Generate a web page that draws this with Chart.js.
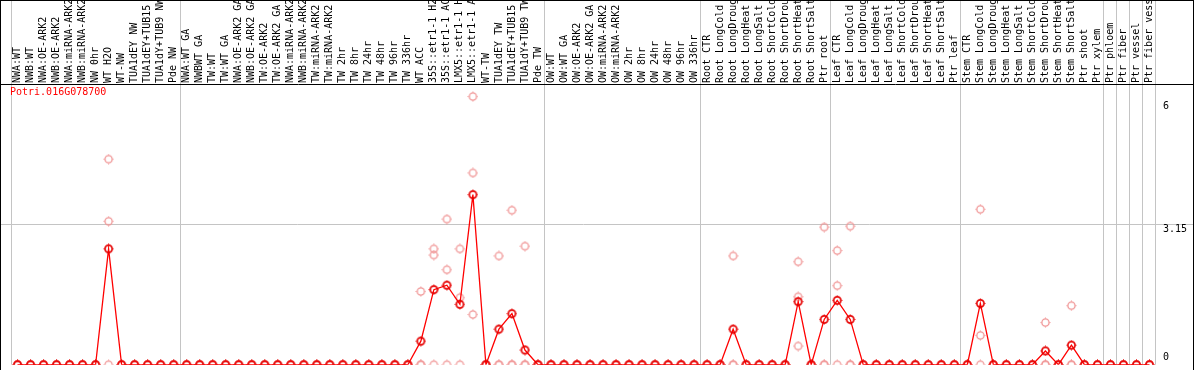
<!DOCTYPE html>
<html>
<head>
<meta charset="utf-8">
<script src="https://cdn.jsdelivr.net/npm/chart.js@4.4.1/dist/chart.umd.min.js"></script>
<style>
  html, body { margin: 0; padding: 0; background: #fff; }
  #wrap { width: 1194px; height: 370px; }
</style>
</head>
<body>
<div id="wrap"><canvas id="exprChart" width="1194" height="370"></canvas></div>
<script>
const geneId = 'Potri.016G078700';

const samples = [
  'NWA:WT', 'NWB:WT', 'NWA:OE-ARK2', 'NWB:OE-ARK2', 'NWA:miRNA-ARK2', 'NWB:miRNA-ARK2', 'NW 0hr',
  'WT H2O', 'WT-NW', 'TUA1dEY NW', 'TUA1dEY+TUB15 NW', 'TUA1dY+TUB9 NW', 'Pde NW',
  'NWA:WT GA', 'NWBWT GA', 'TW:WT', 'TW:WT GA', 'NWA:OE-ARK2 GA', 'NWB:OE-ARK2 GA', 'TW:OE-ARK2',
  'TW:OE-ARK2 GA', 'NWA:miRNA-ARK2 GA', 'NWB:miRNA-ARK2 GA', 'TW:miRNA-ARK2', 'TW:miRNA-ARK2 GA',
  'TW 2hr', 'TW 8hr', 'TW 24hr', 'TW 48hr', 'TW 96hr', 'TW 336hr', 'WT ACC',
  '35S::etr1-1 H2O', '35S::etr1-1 ACC', 'LMX5::etr1-1 H2O', 'LMX5::etr1-1 ACC', 'WT-TW',
  'TUA1dEY TW', 'TUA1dEY+TUB15 TW', 'TUA1dY+TUB9 TW', 'Pde TW',
  'OW:WT', 'OW:WT GA', 'OW:OE-ARK2', 'OW:OE-ARK2 GA', 'OW:miRNA-ARK2', 'OW:miRNA-ARK2 GA',
  'OW 2hr', 'OW 8hr', 'OW 24hr', 'OW 48hr', 'OW 96hr', 'OW 336hr',
  'Root CTR', 'Root LongCold', 'Root LongDrought', 'Root LongHeat', 'Root LongSalt',
  'Root ShortCold', 'Root ShortDrought', 'Root ShortHeat', 'Root ShortSalt', 'Ptr root',
  'Leaf CTR', 'Leaf LongCold', 'Leaf LongDrought', 'Leaf LongHeat', 'Leaf LongSalt',
  'Leaf ShortCold', 'Leaf ShortDrought', 'Leaf ShortHeat', 'Leaf ShortSalt', 'Ptr leaf',
  'Stem CTR', 'Stem LongCold', 'Stem LongDrought', 'Stem LongHeat', 'Stem LongSalt',
  'Stem ShortCold', 'Stem ShortDrought', 'Stem ShortHeat', 'Stem ShortSalt', 'Ptr shoot', 'Ptr xylem',
  'Ptr phloem', 'Ptr fiber', 'Ptr vessel', 'Ptr fiber vessel'
];

// first sample of each experiment block (gray separators)
const groupStarts = [0, 13, 41, 53, 63, 73, 84, 85, 86, 87];

const meanExpr = [
  0, 0, 0, 0, 0, 0, 0, 2.61, 0, 0, 0, 0, 0,
  0, 0, 0, 0, 0, 0, 0, 0, 0, 0, 0, 0, 0, 0, 0, 0, 0, 0, 0.53, 1.69, 1.79, 1.36, 3.83, 0, 0.80, 1.15, 0.33, 0,
  0, 0, 0, 0, 0, 0, 0, 0, 0, 0, 0, 0,
  0, 0, 0.80, 0, 0, 0, 0, 1.42, 0, 1.02,
  1.45, 1.02, 0, 0, 0, 0, 0, 0, 0, 0,
  0, 1.38, 0, 0, 0, 0, 0.31, 0, 0.44, 0, 0,
  0, 0, 0, 0
];

const rep1 = [
  0, 0, 0, 0, 0, 0, 0, 4.63, 0, 0, 0, 0, 0,
  0, 0, 0, 0, 0, 0, 0, 0, 0, 0, 0, 0, 0, 0, 0, 0, 0, 0, 1.65, 2.61, 3.28, 2.61, 6.04, 0, 2.45, 3.48, 2.67, 0,
  0, 0, 0, 0, 0, 0, 0, 0, 0, 0, 0, 0,
  0, 0, 2.45, 0, 0, 0, 0, 2.32, 0, 3.10,
  2.57, 3.12, 0, 0, 0, 0, 0, 0, 0, 0,
  0, 3.50, 0, 0, 0, 0, 0.95, 0, 1.33, 0, 0,
  0, 0, 0, 0
];

const rep2 = [
  0, 0, 0, 0, 0, 0, 0, 3.23, 0, 0, 0, 0, 0,
  0, 0, 0, 0, 0, 0, 0, 0, 0, 0, 0, 0, 0, 0, 0, 0, 0, 0, 0, 2.47, 2.14, 1.51, 4.32, 0, 0, 0, 0, 0,
  0, 0, 0, 0, 0, 0, 0, 0, 0, 0, 0, 0,
  0, 0, 0, 0, 0, 0, 0, 1.53, 0, 0,
  1.78, 0, 0, 0, 0, 0, 0, 0, 0, 0,
  0, 0.66, 0, 0, 0, 0, 0, 0, 0, 0, 0,
  0, 0, 0, 0
];

const rep3 = [
  0, 0, 0, 0, 0, 0, 0, 0, 0, 0, 0, 0, 0,
  0, 0, 0, 0, 0, 0, 0, 0, 0, 0, 0, 0, 0, 0, 0, 0, 0, 0, 0, 0, 0, 0, 1.13, 0, 0, 0, 0, 0,
  0, 0, 0, 0, 0, 0, 0, 0, 0, 0, 0, 0,
  0, 0, 0, 0, 0, 0, 0, 0.42, 0, 0,
  0, 0, 0, 0, 0, 0, 0, 0, 0, 0,
  0, 0, 0, 0, 0, 0, 0, 0, 0, 0, 0,
  0, 0, 0, 0
];

const yMax = 6.3;
const yTicks = [0, 3.15, 6];

const MONO = "'DejaVu Sans Mono', 'Liberation Mono', monospace";
const GRID = '#c4c4c4';
const NONE = 'rgba(0,0,0,0)';

// round marker with tiny nubs on four sides
function makeMarker(color, lw) {
  const c = document.createElement('canvas');
  c.width = 11;
  c.height = 11;
  const g = c.getContext('2d');
  g.strokeStyle = color;
  g.lineWidth = lw;
  g.beginPath();
  g.arc(5.5, 5.5, 3.6, 0, Math.PI * 2);
  g.stroke();
  g.fillStyle = color;
  g.fillRect(5, 0.5, 1, 1);
  g.fillRect(5, 9.5, 1, 1);
  g.fillRect(0.5, 5, 1, 1);
  g.fillRect(9.5, 5, 1, 1);
  return c;
}

const frame = {
  id: 'frame',
  afterDraw(chart) {
    const { ctx, width, height, chartArea } = chart;
    ctx.save();
    ctx.strokeStyle = '#000';
    ctx.lineWidth = 1;
    ctx.beginPath();
    ctx.moveTo(0.5, 0);
    ctx.lineTo(0.5, height);
    ctx.moveTo(width - 0.5, 0);
    ctx.lineTo(width - 0.5, height);
    ctx.moveTo(0, 0.5);
    ctx.lineTo(width, 0.5);
    ctx.moveTo(0, Math.round(chartArea.top) - 0.5);
    ctx.lineTo(width, Math.round(chartArea.top) - 0.5);
    ctx.stroke();
    ctx.fillStyle = '#ff0000';
    ctx.font = '10px ' + MONO;
    ctx.textBaseline = 'alphabetic';
    ctx.fillText(geneId, chartArea.left - 1, chartArea.top + 10);
    ctx.restore();
  }
};

// nudge tick labels off the value line, like the original
const yLabel = v => (v === 0 ? ['0', ''] : ['', String(v)]);
const yLineHeight = v => (v === 0 ? 1.4 : v === 3.15 ? 1.0 : 1.7);
const setYTicks = s => { s.ticks = yTicks.map(v => ({ value: v })); };
const yGridColor = c => (c.tick && c.tick.value === 3.15 ? GRID : NONE);

new Chart(document.getElementById('exprChart'), {
  type: 'line',
  data: {
    labels: samples,
    datasets: [
      {
        label: 'mean',
        data: meanExpr,
        borderColor: '#ff0000',
        borderWidth: 1.3,
        tension: 0,
        pointStyle: makeMarker('#e60000', 1.7),
        pointRadius: 4
      },
      { label: 'rep1', data: rep1, showLine: false, pointStyle: makeMarker('#f09494', 1.3), pointRadius: 4 },
      { label: 'rep2', data: rep2, showLine: false, pointStyle: makeMarker('#f09494', 1.3), pointRadius: 4 },
      { label: 'rep3', data: rep3, showLine: false, pointStyle: makeMarker('#f09494', 1.3), pointRadius: 4 }
    ]
  },
  options: {
    responsive: false,
    animation: false,
    devicePixelRatio: 1,
    layout: { padding: { left: 1, right: 0, top: 0, bottom: 1 } },
    plugins: {
      legend: { display: false },
      tooltip: { enabled: false },
      title: { display: false }
    },
    scales: {
      x: {
        type: 'category',
        position: 'top',
        offset: true,
        grid: {
          offset: true,
          lineWidth: 1,
          tickLength: 85,
          color: c => (c.tick === undefined || groupStarts.includes(c.index) ? GRID : NONE)
        },
        border: { display: false },
        ticks: {
          autoSkip: false,
          minRotation: 90,
          maxRotation: 90,
          mirror: true,
          padding: -2,
          color: '#000',
          font: { family: MONO, size: 10 }
        },
        afterFit: s => { s.height = 85; }
      },
      y: {
        position: 'right',
        min: 0,
        max: yMax,
        afterBuildTicks: setYTicks,
        grid: { color: yGridColor, tickLength: 38, lineWidth: 1 },
        border: { display: false },
        ticks: {
          padding: -31,
          color: '#000',
          font: c => ({ family: MONO, size: 10, lineHeight: yLineHeight(c.tick ? c.tick.value : 0) }),
          callback: yLabel
        },
        afterFit: s => { s.width = 38; }
      },
      yl: {
        position: 'left',
        min: 0,
        max: yMax,
        afterBuildTicks: setYTicks,
        grid: { color: yGridColor, tickLength: 10, drawOnChartArea: false },
        border: { display: false },
        ticks: { display: false },
        afterFit: s => { s.width = 10; }
      }
    }
  },
  plugins: [frame]
});
</script>
</body>
</html>
